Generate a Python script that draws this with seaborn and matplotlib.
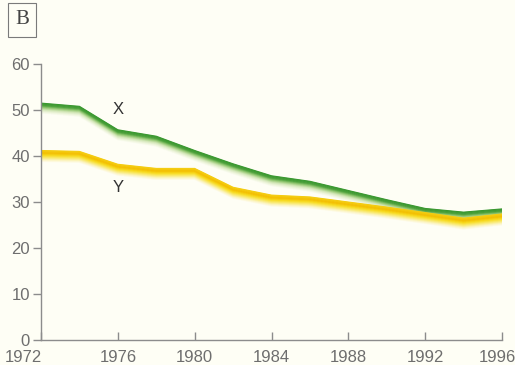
import numpy as np
import pandas as pd
import matplotlib
matplotlib.use("Agg")
import matplotlib.pyplot as plt
import matplotlib.transforms as mtransforms
from matplotlib.colors import to_rgb
import seaborn as sns

# Series values, every two years
years = [1972, 1974, 1976, 1978, 1980, 1982, 1984, 1986, 1988, 1990, 1992, 1994, 1996]
series_x = [51.5, 50.8, 45.7, 44.3, 41.2, 38.3, 35.7, 34.5, 32.5, 30.5, 28.6, 27.8, 28.5]
series_y = [41.2, 41.0, 38.2, 37.3, 37.3, 33.2, 31.5, 31.1, 30.0, 28.9, 27.7, 26.5, 27.4]
x_ticks = [1972, 1976, 1980, 1984, 1988, 1992, 1996]
y_ticks = [0, 10, 20, 30, 40, 50, 60]
panel_letter = "B"

BG = "#fefef5"
AXIS = "#8c8c8c"
TEXT = "#6e6e6e"

sns.set_theme(style="white")
plt.rcParams["font.family"] = ["Liberation Sans", "DejaVu Sans"]

fig = plt.figure(figsize=(5.15, 3.65), dpi=100, facecolor=BG)
ax = fig.add_axes([41 / 515, 1 - 340 / 365, (502 - 41) / 515, (340 - 64) / 365])
ax.set_facecolor(BG)

df = pd.DataFrame({"year": years, "X": series_x, "Y": series_y})


def mix(c1, c2, t):
    a, b = np.array(to_rgb(c1)), np.array(to_rgb(c2))
    return tuple(a + (b - a) * t)


def gradient_band(col, stops, depth_px, lw):
    """Draw a line whose colour fades downward, like an extruded ribbon."""
    step = 0.5
    n = int(depth_px / step)
    for i in reversed(range(n)):
        t = i / (n - 1)
        seg = min(int(t * (len(stops) - 1)), len(stops) - 2)
        local = t * (len(stops) - 1) - seg
        c = mix(stops[seg], stops[seg + 1], local)
        off = mtransforms.ScaledTranslation(0, -(i * step) / 100, fig.dpi_scale_trans)
        sns.lineplot(data=df, x="year", y=col, ax=ax, color=c, lw=lw,
                     legend=False, transform=ax.transData + off,
                     solid_joinstyle="miter", solid_capstyle="butt")


gradient_band("X", ["#3a9830", "#4ea23c", "#9acb78", "#d3e7b8", "#eef5dc", BG], 11, 0.8)
gradient_band("Y", ["#f4cc10", "#f3be00", "#f8dc20", "#f9ea70", "#fcf5c4", BG], 12, 0.8)

ax.text(1976, 50.0, "X", ha="center", va="center", fontsize=12, color="#333333")
ax.text(1976, 33.2, "Y", ha="center", va="center", fontsize=12, color="#333333")

ax.set_xlim(1972, 1996)
ax.set_ylim(0, 60)
ax.set_xticks(x_ticks)
ax.set_yticks(y_ticks)
ax.set_xticklabels([str(v) for v in x_ticks])
ax.set_yticklabels([str(v) for v in y_ticks])
ax.set_xlabel("")
ax.set_ylabel("")

for s in ["top", "right"]:
    ax.spines[s].set_visible(False)
for s in ["left", "bottom"]:
    ax.spines[s].set_color(AXIS)
    ax.spines[s].set_linewidth(1.0)

ax.tick_params(axis="y", direction="out", length=6, width=1.0, color=AXIS,
               labelcolor=TEXT, labelsize=12, pad=2, left=True)
ax.tick_params(axis="x", direction="in", length=6, width=1.0, color=AXIS,
               labelcolor=TEXT, labelsize=12, pad=7, bottom=True)

# nudge the end labels so they sit inside the figure
labels = ax.get_xticklabels()
labels[0].set_horizontalalignment("right")
labels[0].set_transform(labels[0].get_transform() +
                        mtransforms.ScaledTranslation(1 / 100, 0, fig.dpi_scale_trans))
labels[-1].set_transform(labels[-1].get_transform() +
                         mtransforms.ScaledTranslation(-5 / 100, 0, fig.dpi_scale_trans))

# panel letter in a small box
fig.text(22 / 515, 1 - 20 / 365, panel_letter, ha="center", va="center",
         fontsize=15, color="#444444", family=["Liberation Serif", "DejaVu Serif"],
         bbox=dict(boxstyle="square,pad=0.35", fc="none", ec="#7a7a7a", lw=0.8))

fig.savefig("out.png", dpi=100, facecolor=BG)
